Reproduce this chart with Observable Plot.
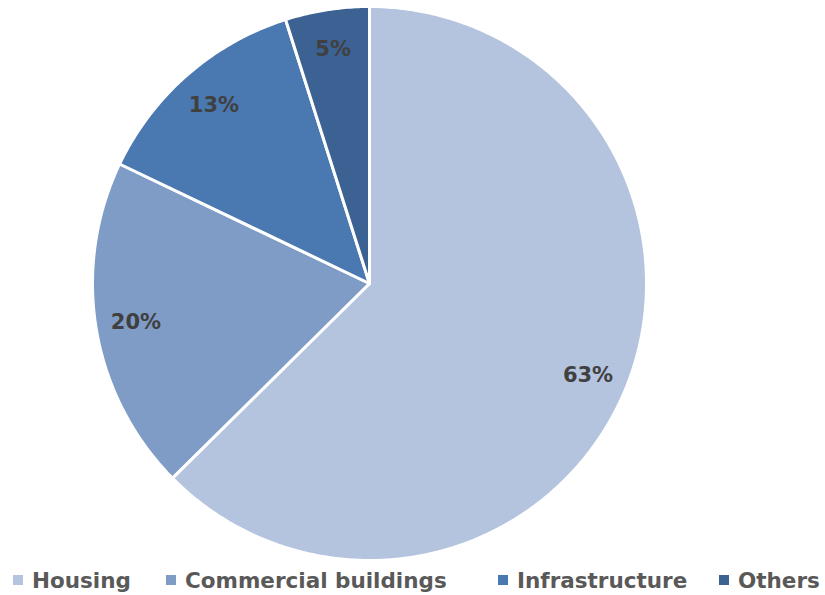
<!DOCTYPE html>
<html><head><meta charset="utf-8">
<script src="https://cdn.jsdelivr.net/npm/d3@7"></script>
<script src="https://cdn.jsdelivr.net/npm/@observablehq/plot@0.6"></script>
<style>
body{margin:0;background:#fff;font-family:"DejaVu Sans",sans-serif;}
#legend{position:relative;height:30px;color:#595959;font-weight:bold;font-size:21.5px;}
.item{display:flex;align-items:center;position:absolute;top:0;height:30px;white-space:nowrap;}
.sw{width:10px;height:10px;margin-right:9px;flex:none;}
</style></head><body>
<div id="chart"></div>
<div id="legend"></div>
<script>
const categories = ["Housing","Commercial buildings","Infrastructure","Others"];
const values = [62.6, 19.5, 13.0, 4.9];
const labels = ["63%","20%","13%","5%"];
const colors = ["#b4c3de","#7f9cc7","#4a78b0","#3c6294"];

const total = d3.sum(values);
const pts = [], slices = [];
let acc = 0;
categories.forEach((c,i)=>{
  const a0 = acc/total*2*Math.PI; acc += values[i];
  const a1 = acc/total*2*Math.PI;
  pts.push({cat:c,x:0,y:0});
  const n = Math.max(4, Math.ceil((a1-a0)/0.01));
  for(let k=0;k<=n;k++){const a=a0+(a1-a0)*k/n; pts.push({cat:c,x:Math.sin(a),y:Math.cos(a)});}
  pts.push({cat:c,x:0,y:0});
  const m=(a0+a1)/2, r=0.855;
  slices.push({cat:c,label:labels[i],x:r*Math.sin(m),y:r*Math.cos(m)});
});

const cx=369, cy=283, R=277;
const plot = Plot.plot({
  width:825, height:565, margin:0,
  x:{domain:[-1,1], range:[cx-R,cx+R], axis:null},
  y:{domain:[-1,1], range:[cy+R,cy-R], axis:null},
  color:{domain:categories, range:colors},
  marks:[
    Plot.line(pts,{x:"x",y:"y",z:"cat",fill:"cat",stroke:"white",strokeWidth:3,strokeLinejoin:"round",curve:"linear"}),
    Plot.text(slices,{x:"x",y:"y",text:"label",fill:"#404040",fontSize:21,fontWeight:"bold",fontFamily:"DejaVu Sans"})
  ]
});
document.getElementById("chart").append(plot);

const lx=[13,166,498,719];
const leg=document.getElementById("legend");
categories.forEach((c,i)=>{
  const d=document.createElement("div");d.className="item";d.style.left=lx[i]+"px";
  d.innerHTML=`<span class="sw" style="background:${colors[i]}"></span><span>${c}</span>`;
  leg.append(d);
});
</script></body></html>
